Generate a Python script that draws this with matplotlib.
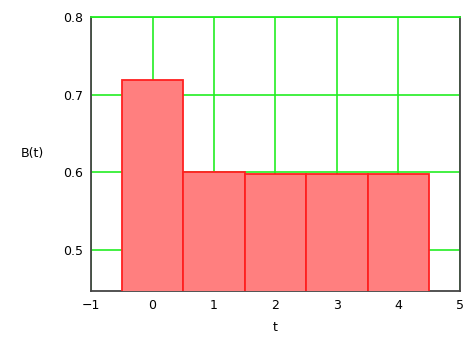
import numpy as np
import matplotlib
matplotlib.use('Agg')
from matplotlib import pyplot as plt

# data
t = [0, 1, 2, 3, 4]
B = [0.719, 0.600, 0.598, 0.598, 0.598]
xticks = [-1, 0, 1, 2, 3, 4, 5]
yticks = [0.5, 0.6, 0.7, 0.8]

fig = plt.figure(figsize=(4.77, 3.39), dpi=100)
ax = fig.add_axes([0.191, 0.142, 0.773, 0.808])

ax.bar(t, B, width=1.0, bottom=0, color='#ff7f7f', edgecolor='#ff2020',
       linewidth=1.3, zorder=3)

ax.set_xlim(-1, 5)
ax.set_ylim(0.447, 0.8)
ax.set_xticks(xticks)
ax.set_yticks(yticks)
ax.set_yticklabels(['0.5', '0.6', '0.7', '0.8'])
ax.grid(True, color='#22ee22', linewidth=1.2, zorder=1)
ax.set_axisbelow(True)
ax.tick_params(length=0, labelsize=9, pad=6)

for s in ['left', 'bottom', 'right']:
    ax.spines[s].set_color('#444444')
    ax.spines[s].set_linewidth(1.3)
ax.spines['top'].set_color('#22ee22')
ax.spines['top'].set_linewidth(1.3)

ax.set_xlabel('t', fontsize=9, labelpad=6)
ax.set_ylabel('B(t)', fontsize=9, rotation=0, labelpad=22, va='center')

fig.savefig('out.png', dpi=100)
